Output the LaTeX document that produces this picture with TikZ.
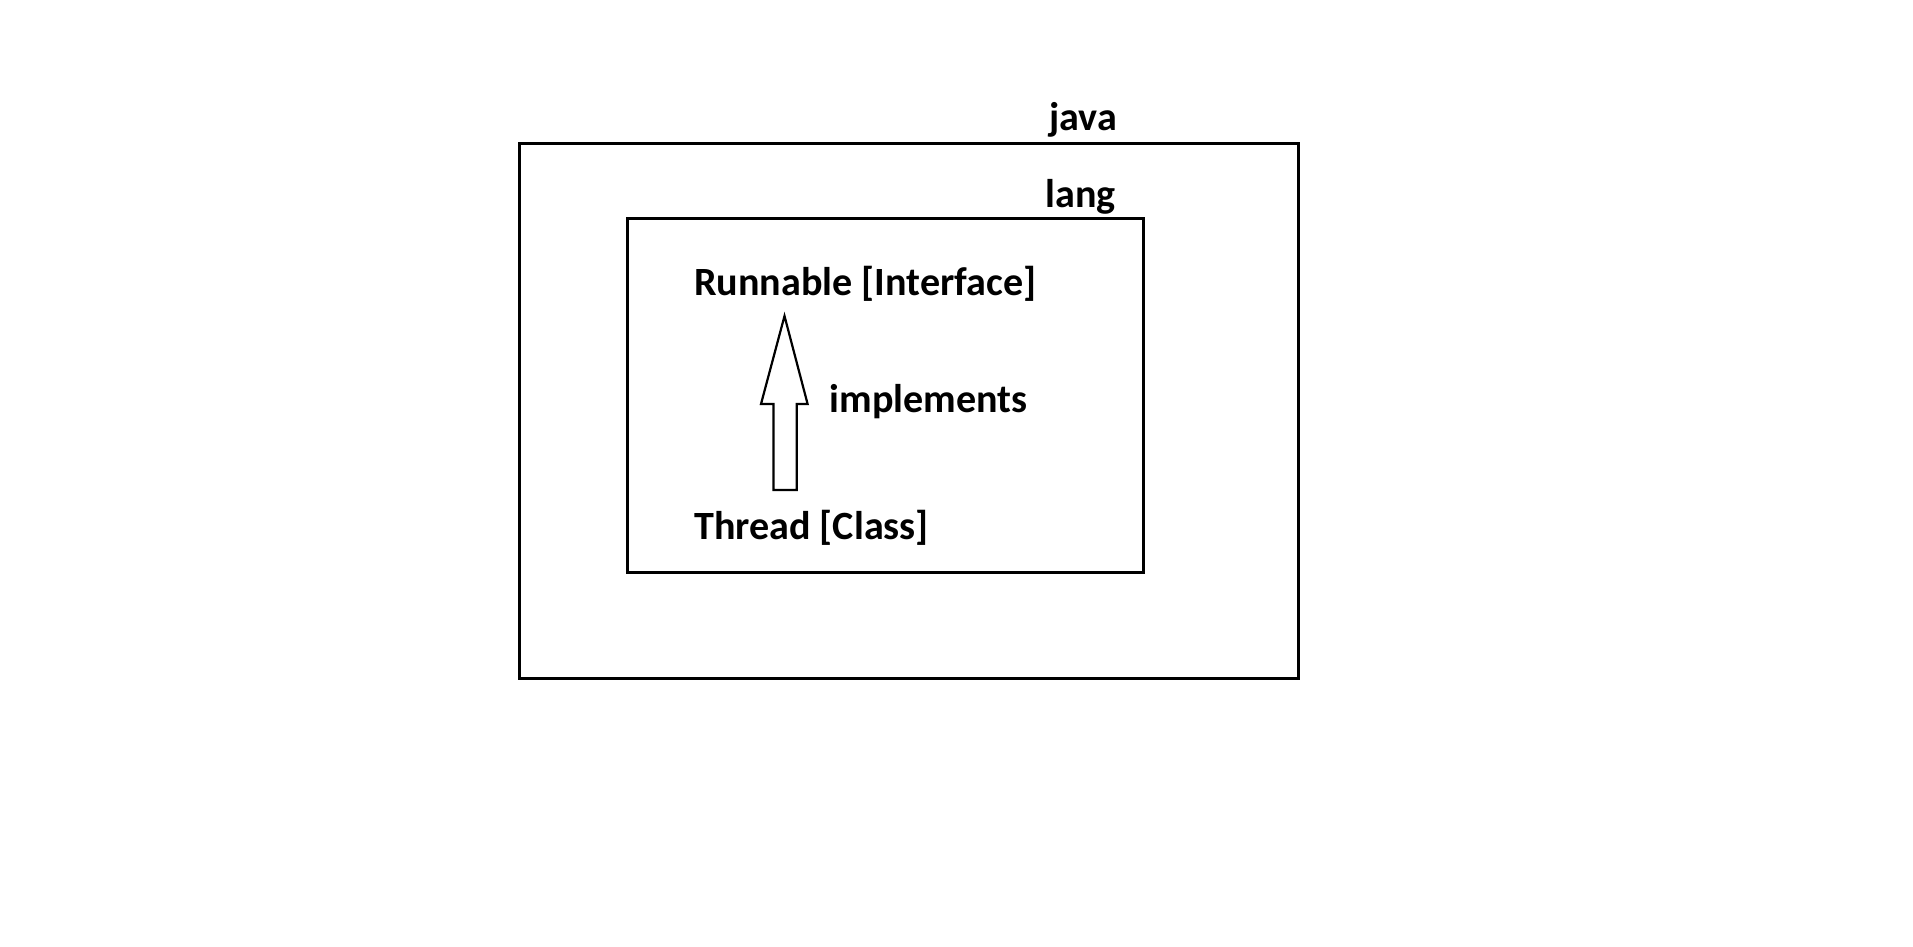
\documentclass[tikz,border=0pt]{standalone}
\usepackage{fontspec}
\setmainfont{Carlito}
\begin{document}
\begin{tikzpicture}[x=1pt,y=-1pt,
  lbl/.style={font=\bfseries\fontsize{40.1}{44}\selectfont, inner sep=0pt, anchor=base west},
  box/.style={draw=black, line width=3pt}]
\useasboundingbox (0,0) rectangle (1913,947);
\fill[white] (0,0) rectangle (1913,947);
\node[box, minimum width=779.5pt, minimum height=535.6pt, inner sep=0pt, anchor=north west] (outer) at (517.5,141.7) {};
\node[box, minimum width=516pt, minimum height=353.6pt, inner sep=0pt, anchor=north west] (inner) at (626,217.4) {};
\node[lbl] (java) at (1049,131) {java};
\node[lbl] (lang) at (1045.5,207) {lang};
\node[lbl] (runnable) at (694,295) {Runnable [Interface]};
\node[lbl] (implements) at (829.6,412) {implements};
\node[lbl] (thread) at (694,539) {Thread [Class]};
\coordinate (tip) at (784.5,316);
\coordinate (bot) at (785,490);
\draw[line width=2.2pt, line join=miter, fill=white]
  (tip) -- (807.6,404) -- (796.7,404) -- (796.7,490) -- (773.5,490) -- (773.5,404) -- (761,404) -- cycle;
\end{tikzpicture}
\end{document}
